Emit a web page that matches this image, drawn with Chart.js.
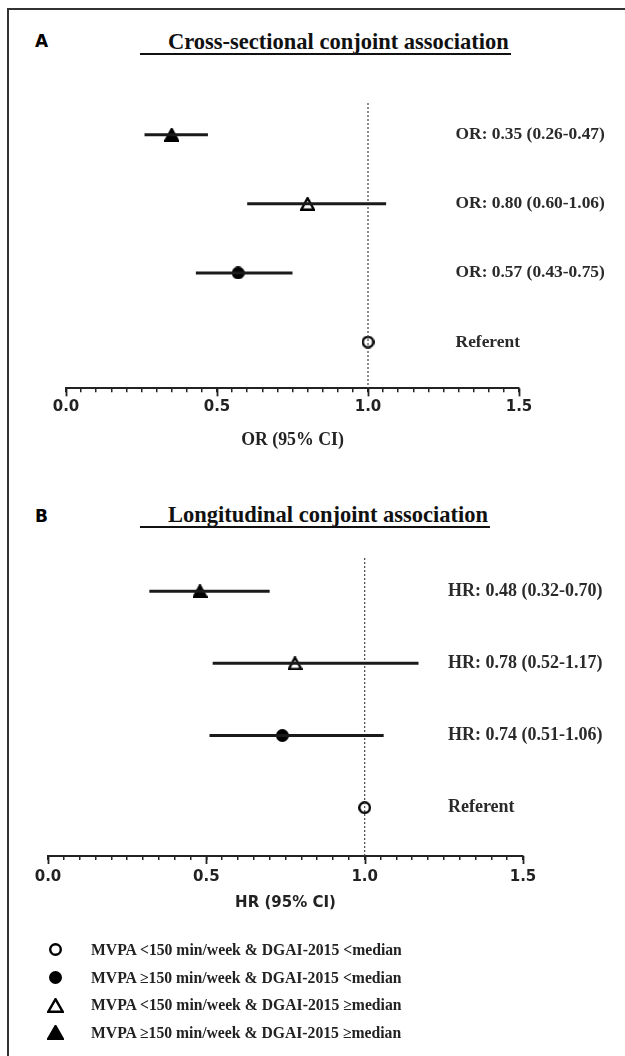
<!DOCTYPE html>
<html><head><meta charset="utf-8">
<script src="https://cdn.jsdelivr.net/npm/chart.js@4.4.1/dist/chart.umd.min.js"></script>
<style>
html,body{margin:0;padding:0;background:#fff;}
body{width:625px;height:1056px;position:relative;overflow:hidden;}
.frame{position:absolute;left:7px;top:8px;width:616px;height:1048px;border-left:2px solid #333;border-top:2px solid #333;}
.panel{position:absolute;left:35px;font:bold 17px "DejaVu Sans",sans-serif;line-height:17px;color:#000;}
.ttl{position:absolute;left:140px;padding-left:28px;padding-right:2px;font:bold 22.5px "Liberation Serif","Times New Roman",serif;color:#111;line-height:22px;border-bottom:2px solid #111;white-space:nowrap;}
canvas.chart{position:absolute;left:0;}
.leg{position:absolute;left:45px;top:936px;font:bold 15.7px "Liberation Serif","Times New Roman",serif;color:#222;}
.leg .row{height:27.7px;display:flex;align-items:center;white-space:nowrap;}
.leg .mk{width:20px;height:20px;margin-right:26px;display:flex;align-items:center;justify-content:center;}
</style>
</head>
<body>
<div class="frame"></div>
<div class="panel" style="top:33px">A</div>
<div class="ttl" style="top:31px">Cross-sectional conjoint association</div>
<canvas class="chart" id="chartA" width="625" height="371" style="top:80px"></canvas>
<div class="panel" style="top:508px">B</div>
<div class="ttl" style="top:504px">Longitudinal conjoint association</div>
<canvas class="chart" id="chartB" width="625" height="372" style="top:540px"></canvas>
<div class="leg" id="legend"></div>
<script>
// ---- data ----
const rowIndex = [1, 2, 3, 4];
const groupLabels = [
  'MVPA \u2265150 min/week & DGAI-2015 \u2265median',
  'MVPA <150 min/week & DGAI-2015 \u2265median',
  'MVPA \u2265150 min/week & DGAI-2015 <median',
  'MVPA <150 min/week & DGAI-2015 <median'
];
const markerKinds = ['triFill', 'triOpen', 'circFill', 'circOpen'];
const orEstimate = [0.35, 0.80, 0.57, 1.00];
const orLower = [0.26, 0.60, 0.43, null];
const orUpper = [0.47, 1.06, 0.75, null];
const orText = ['OR: 0.35 (0.26-0.47)', 'OR: 0.80 (0.60-1.06)', 'OR: 0.57 (0.43-0.75)', 'Referent'];
const hrEstimate = [0.48, 0.78, 0.74, 1.00];
const hrLower = [0.32, 0.52, 0.51, null];
const hrUpper = [0.70, 1.17, 1.06, null];
const hrText = ['HR: 0.48 (0.32-0.70)', 'HR: 0.78 (0.52-1.17)', 'HR: 0.74 (0.51-1.06)', 'Referent'];
const majorTicks = [0.0, 0.5, 1.0, 1.5];
const legendOrder = [3, 2, 1, 0];

const Y_MIN = 0.54, Y_MAX = 4.67;

function marker(kind, w, h) {
  const c = document.createElement('canvas');
  c.width = w; c.height = h;
  const g = c.getContext('2d');
  const lw = 2.4, m = lw / 2;
  g.lineWidth = lw; g.strokeStyle = '#000'; g.fillStyle = kind.endsWith('Fill') ? '#000' : '#fff';
  g.lineJoin = 'miter';
  g.beginPath();
  if (kind.startsWith('tri')) {
    g.moveTo(w / 2, m); g.lineTo(w - m, h - m); g.lineTo(m, h - m); g.closePath();
  } else {
    g.ellipse(w / 2, h / 2, w / 2 - m, h / 2 - m, 0, 0, Math.PI * 2);
  }
  g.fill(); g.stroke();
  return c;
}

function forest(id, est, lo, hi, texts, cfg) {
  const datasets = [];
  rowIndex.forEach((r, i) => {
    if (lo[i] == null) return;
    datasets.push({
      data: [{x: lo[i], y: r}, {x: hi[i], y: r}],
      showLine: true, borderColor: '#1a1a1a', borderWidth: 3, pointRadius: 0,
      borderCapStyle: 'butt'
    });
  });
  datasets.push({
    data: [{x: 1, y: Y_MIN}, {x: 1, y: Y_MAX}],
    showLine: true, borderColor: '#444', borderWidth: 1.2, borderDash: [2, 2], pointRadius: 0
  });
  datasets.push({
    data: est.map((v, i) => ({x: v, y: rowIndex[i]})),
    pointStyle: markerKinds.map((k) => k.startsWith('tri') ? marker(k, 15, 14) : marker(k, 13, 13)),
    pointRadius: 7, showLine: false
  });

  const rowTextPlugin = {
    id: 'rowText' + id,
    afterDatasetsDraw(chart) {
      const {ctx, scales: {x, y}} = chart;
      ctx.save();
      ctx.font = cfg.labelFont;
      ctx.fillStyle = '#2a2a2a';
      ctx.textAlign = 'left';
      ctx.textBaseline = 'middle';
      texts.forEach((t, i) => ctx.fillText(t, x.getPixelForValue(cfg.labelAt), y.getPixelForValue(rowIndex[i])));
      ctx.restore();
    }
  };
  const majorTickPlugin = {
    id: 'major' + id,
    afterDraw(chart) {
      const {ctx, chartArea, scales: {x}} = chart;
      ctx.save();
      ctx.strokeStyle = '#222';
      ctx.lineWidth = 1.8;
      majorTicks.forEach((t) => {
        const px = Math.round(x.getPixelForValue(t)) + 0.5;
        ctx.beginPath();
        ctx.moveTo(px, chartArea.bottom);
        ctx.lineTo(px, chartArea.bottom + 8);
        ctx.stroke();
      });
      ctx.restore();
    }
  };

  return new Chart(document.getElementById(id), {
    type: 'scatter',
    data: {datasets},
    options: {
      responsive: false,
      animation: false,
      events: [],
      layout: {padding: cfg.padding},
      plugins: {legend: {display: false}, tooltip: {enabled: false}},
      scales: {
        x: {
          type: 'linear', min: 0, max: 1.5, position: 'bottom',
          ticks: {
            stepSize: 0.05, autoSkip: false, maxRotation: 0, padding: cfg.tickPad,
            color: '#222',
            font: {family: '"DejaVu Sans", sans-serif', weight: 'bold', size: 15},
            callback: (v) => majorTicks.some((t) => Math.abs(t - v) < 1e-6) ? Number(v).toFixed(1) : ''
          },
          grid: {display: true, drawOnChartArea: false, drawTicks: true, tickLength: 4, color: '#222', lineWidth: 1.5},
          border: {display: true, color: '#222', width: 2},
          title: {display: true, text: cfg.axisTitle, color: '#222', font: cfg.titleFont, padding: {top: cfg.titlePad, bottom: 0}}
        },
        y: {type: 'linear', min: Y_MIN, max: Y_MAX, reverse: true, display: false}
      }
    },
    plugins: [rowTextPlugin, majorTickPlugin]
  });
}

forest('chartA', orEstimate, orLower, orUpper, orText, {
  padding: {top: 23, left: 66, right: 106, bottom: 0},
  tickPad: 6, titlePad: 7.3,
  axisTitle: 'OR (95% CI)',
  titleFont: {family: '"Liberation Serif", "Times New Roman", serif', weight: 'bold', size: 17.8},
  labelFont: 'bold 17.4px "Liberation Serif", "Times New Roman", serif',
  labelAt: 1.29
});
forest('chartB', hrEstimate, hrLower, hrUpper, hrText, {
  padding: {top: 18, left: 48, right: 102, bottom: 0},
  tickPad: 8, titlePad: 0,
  axisTitle: 'HR (95% CI)',
  titleFont: {family: '"DejaVu Sans", sans-serif', weight: 'bold', size: 15},
  labelFont: 'bold 18px "Liberation Serif", "Times New Roman", serif',
  labelAt: 1.263
});

// legend
const leg = document.getElementById('legend');
legendOrder.forEach((i) => {
  const row = document.createElement('div');
  row.className = 'row';
  const mk = document.createElement('div');
  mk.className = 'mk';
  const k = markerKinds[i];
  mk.appendChild(k.startsWith('tri') ? marker(k, 17, 15) : marker(k, 13, 13));
  const tx = document.createElement('span');
  tx.textContent = groupLabels[i];
  row.appendChild(mk); row.appendChild(tx);
  leg.appendChild(row);
});
</script>
</body></html>
